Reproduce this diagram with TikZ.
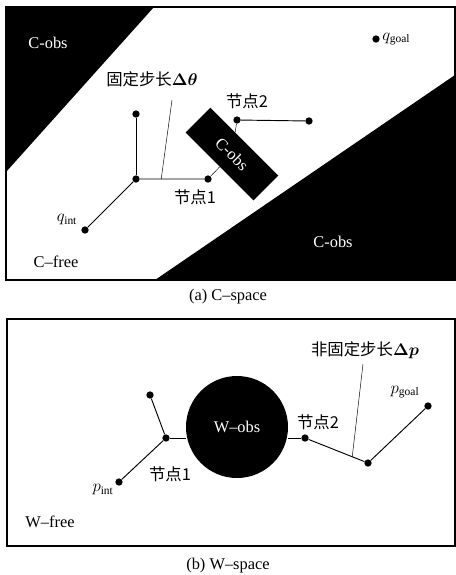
\documentclass[tikz,border=0pt]{standalone}
\usepackage{amsmath}
\usepackage{fontspec}
\setmainfont{Liberation Serif}
\newfontfamily\cjk{Noto Sans CJK SC}
\usetikzlibrary{positioning,calc}

\begin{document}
\begin{tikzpicture}[
    x=0.03cm, y=-0.03cm,
    font=\fontsize{14}{16}\selectfont,
    dot/.style={circle, fill, inner sep=0pt, minimum size=0.22cm},
    lbl/.style={inner sep=1pt},
    obs/.style={fill=black, text=white, inner sep=0pt},
    tree/.style={line width=0.8pt},
    lead/.style={line width=0.4pt}
  ]
  \useasboundingbox (0,0) rectangle (456,575);

  % (a) C-space
  \fill (6,7) -- (154,7) -- (6,172) -- cycle;
  \fill (155,280) -- (455,75) -- (455,280) -- cycle;
  \draw[line width=1pt] (6,7) rectangle (455,280);
  \node[obs, rotate=-45, minimum width=2.88cm, minimum height=1.05cm] (cobs) at (232,154) {C-obs};
  \node[text=white] at (48,43) {C-obs};
  \node[text=white] at (333,242) {C-obs};
  \node at (56,262) {C--free};

  \node[dot] (c0) at (136,179) {};
  \node[dot] (cup) at (136,114) {};
  \node[dot] (c1) at (208,179) {};
  \node[dot] (cint) at (85,230) {};
  \node[dot] (c2) at (237,120) {};
  \node[dot] (c3) at (309,121) {};
  \node[dot] (cgoal) at (376,39) {};
  \draw[tree] (cint) -- (c0) -- (c1);
  \draw[tree] (c0) -- (cup);
  \draw[tree] (c2) -- (c3);
  \draw[lead] (c1) -- (cobs);
  \draw[lead] (c2) -- (cobs);

  \node[lbl] (cfix) at (152,79) {\cjk 固定步长$\boldsymbol{\Delta\theta}$};
  \coordinate (ctop) at (172,100);
  \coordinate (ctip) at ($(c0)!0.35!(c1)$);
  \draw[lead] (ctop) -- (ctip);
  \node[lbl] at (67,220) {$q_{\mathrm{int}}$};
  \node[lbl, right=1pt of cgoal] {$q_{\mathrm{goal}}$};
  \node[lbl] at (195,197) {\cjk 节点1};
  \node[lbl] at (247,101) {\cjk 节点2};
  \node at (228,297) {(a) C--space};

  % (b) W-space
  \draw[line width=1pt] (7,319) rectangle (455,546);
  \node[circle, obs, minimum size=3.06cm] (wobs) at (237,427) {W--obs};
  \node at (50,522) {W--free};

  \node[dot] (w0) at (166,438) {};
  \node[dot] (wup) at (150,395) {};
  \node[dot] (wint) at (119,482) {};
  \node[dot] (w2) at (305,438) {};
  \node[dot] (w3) at (368,463) {};
  \node[dot] (wgoal) at (428,406) {};
  \draw[tree] (wint) -- (w0) -- (wup);
  \draw[tree] (w0) -- (w0 -| wobs.west);
  \draw[tree] (w2) -- (w2 -| wobs.east);
  \draw[tree] (w2) -- (w3) -- (wgoal);

  \node[lbl] (wfix) at (365,350) {\cjk 非固定步长$\boldsymbol{\Delta p}$};
  \coordinate (wtop) at (363,364);
  \coordinate (wtip) at ($(w2)!0.75!(w3)$);
  \draw[lead] (wtop) -- (wtip);
  \node[lbl] at (103,490) {$p_{\mathrm{int}}$};
  \node[lbl] at (405,392) {$p_{\mathrm{goal}}$};
  \node[lbl] at (170,474) {\cjk 节点1};
  \node[lbl] at (318,422) {\cjk 节点2};
  \node at (228,566) {(b) W--space};
\end{tikzpicture}
\end{document}
